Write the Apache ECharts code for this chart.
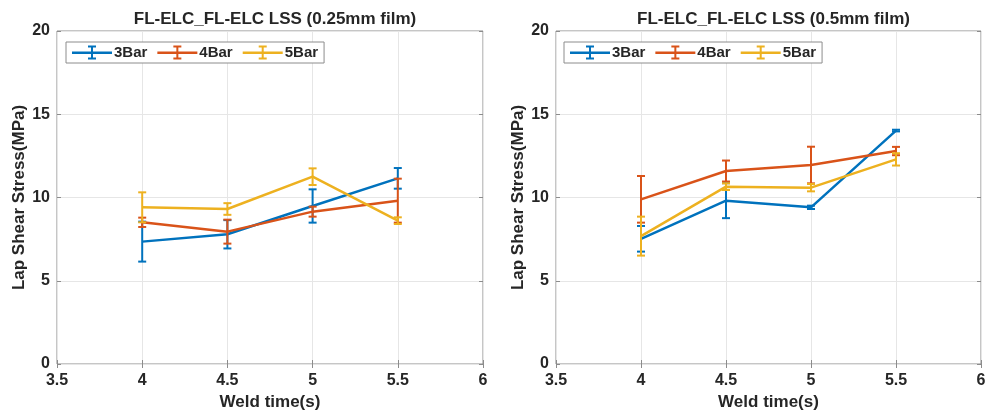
<!DOCTYPE html>
<html>
<head>
<meta charset="utf-8">
<script src="https://cdn.jsdelivr.net/npm/echarts@6/dist/echarts.min.js"></script>
<style>
  html, body { margin: 0; padding: 0; background: #fff; }
  #chart { width: 986px; height: 414px; }
</style>
</head>
<body>
<div id="chart"></div>
<script>
// Weld times (s)
const weldTimes = [4, 4.5, 5, 5.5];
const seriesNames = ['3Bar', '4Bar', '5Bar'];
const xTicks = [3.5, 4, 4.5, 5, 5.5, 6];
const yTicks = [0, 5, 10, 15, 20];

// 0.25 mm film: mean lap shear stress (MPa) and error half-width
const mean3BarThin = [7.35, 7.79, 9.49, 11.15];
const err3BarThin  = [1.2, 0.85, 1.0, 0.62];
const mean4BarThin = [8.51, 7.95, 9.15, 9.81];
const err4BarThin  = [0.28, 0.72, 0.3, 1.32];
const mean5BarThin = [9.41, 9.31, 11.25, 8.61];
const err5BarThin  = [0.9, 0.35, 0.5, 0.2];

// 0.5 mm film
const mean3BarThick = [7.52, 9.81, 9.41, 14.02];
const err3BarThick  = [0.77, 1.05, 0.1, 0.05];
const mean4BarThick = [9.89, 11.59, 11.95, 12.79];
const err4BarThick  = [1.4, 0.63, 1.1, 0.25];
const mean5BarThick = [7.68, 10.65, 10.59, 12.29];
const err5BarThick  = [1.17, 0.2, 0.22, 0.37];

const colors = ['#0072BD', '#D95319', '#EDB120'];
const textColor = '#262626';
const frameColor = '#8c8c8c';
const font = 'Liberation Sans, Arial, sans-serif';

const panels = [
  { title: 'FL-ELC_FL-ELC LSS (0.25mm film)', left: 57, width: 426,
    means: [mean3BarThin, mean4BarThin, mean5BarThin],
    errs: [err3BarThin, err4BarThin, err5BarThin] },
  { title: 'FL-ELC_FL-ELC LSS (0.5mm film)', left: 556, width: 425,
    means: [mean3BarThick, mean4BarThick, mean5BarThick],
    errs: [err3BarThick, err4BarThick, err5BarThick] }
];

const gridTop = 31, gridHeight = 333;

// legend glyph: line with an error bar across it
const legendIcon = 'path://M0,6h40v2.4h-40z M19,1h2v12h-2z M16,0h8v2h-8z M16,12h8v2h-8z';

function errorBarItem(params, api) {
  const x = api.value(0);
  const lo = api.coord([x, api.value(1)]);
  const hi = api.coord([x, api.value(2)]);
  const half = 4;
  const style = { stroke: api.visual('color'), lineWidth: 2 };
  return {
    type: 'group',
    children: [
      { type: 'line', shape: { x1: lo[0], y1: lo[1], x2: hi[0], y2: hi[1] }, style },
      { type: 'line', shape: { x1: lo[0] - half, y1: lo[1], x2: lo[0] + half, y2: lo[1] }, style },
      { type: 'line', shape: { x1: hi[0] - half, y1: hi[1], x2: hi[0] + half, y2: hi[1] }, style }
    ]
  };
}

const grids = [], xAxes = [], yAxes = [], series = [], titles = [], legends = [];
const tickStyle = { show: true, inside: true, length: 4, lineStyle: { color: frameColor } };

panels.forEach((p, gi) => {
  grids.push({ left: p.left, top: gridTop, width: p.width, height: gridHeight,
    containLabel: false, outerBoundsMode: 'none',
    show: true, borderColor: frameColor, borderWidth: 1, backgroundColor: '#fff' });
  titles.push({ text: p.title, left: p.left + p.width / 2, textAlign: 'center', top: 6,
    textStyle: { fontFamily: font, fontSize: 17, fontWeight: 'bold', color: textColor } });
  xAxes.push({
    type: 'value', gridIndex: gi, min: xTicks[0], max: xTicks[xTicks.length - 1], interval: 0.5,
    name: 'Weld time(s)', nameLocation: 'middle', nameGap: 29,
    nameTextStyle: { fontFamily: font, fontSize: 17, fontWeight: 'bold', color: textColor },
    axisLine: { show: false },
    axisTick: tickStyle,
    axisLabel: { fontFamily: font, fontSize: 16, fontWeight: 'bold', color: textColor, margin: 9 },
    splitLine: { show: true, lineStyle: { color: '#e6e6e6', width: 1 } }
  });
  // top edge ticks
  xAxes.push({
    type: 'value', gridIndex: gi, position: 'top', min: xTicks[0], max: xTicks[xTicks.length - 1], interval: 0.5,
    axisLine: { show: false }, axisTick: tickStyle, axisLabel: { show: false }, splitLine: { show: false }
  });
  yAxes.push({
    type: 'value', gridIndex: gi, min: yTicks[0], max: yTicks[yTicks.length - 1], interval: 5,
    name: 'Lap Shear Stress(MPa)', nameLocation: 'middle', nameGap: 26,
    nameTextStyle: { fontFamily: font, fontSize: 17, fontWeight: 'bold', color: textColor },
    axisLine: { show: false },
    axisTick: tickStyle,
    axisLabel: { fontFamily: font, fontSize: 16, fontWeight: 'bold', color: textColor, margin: 7 },
    splitLine: { show: true, lineStyle: { color: '#e6e6e6', width: 1 } }
  });
  // right edge ticks
  yAxes.push({
    type: 'value', gridIndex: gi, position: 'right', min: yTicks[0], max: yTicks[yTicks.length - 1], interval: 5,
    axisLine: { show: false }, axisTick: tickStyle, axisLabel: { show: false }, splitLine: { show: false }
  });
  legends.push({
    left: p.left + (gi === 0 ? 9 : 8), top: 42,
    orient: 'horizontal', itemWidth: 40, itemHeight: 14, itemGap: 10,
    padding: [3, 6, 3, 6],
    borderColor: frameColor, borderWidth: 1, backgroundColor: '#fff',
    selectedMode: false,
    textStyle: { fontFamily: font, fontSize: 15, fontWeight: 'bold', color: textColor, padding: [0, 0, 0, -3] },
    data: seriesNames.map(n => ({ name: n, icon: legendIcon }))
  });

  const xi = gi * 2, yi = gi * 2;
  seriesNames.forEach((name, si) => {
    const m = p.means[si], e = p.errs[si];
    series.push({
      name, type: 'line', xAxisIndex: xi, yAxisIndex: yi,
      data: weldTimes.map((t, i) => [t, m[i]]),
      showSymbol: false, symbol: 'none', color: colors[si],
      lineStyle: { width: 2.5, color: colors[si] }, z: 2 + si, animation: false
    });
    series.push({
      name, type: 'custom', xAxisIndex: xi, yAxisIndex: yi,
      data: weldTimes.map((t, i) => [t, m[i] - e[i], m[i] + e[i]]),
      renderItem: errorBarItem, color: colors[si], z: 2 + si, animation: false,
      encode: { x: 0, y: [1, 2] }
    });
  });
});

const chart = echarts.init(document.getElementById('chart'), null, { renderer: 'canvas' });
chart.setOption({
  animation: false,
  backgroundColor: '#fff',
  title: titles,
  legend: legends,
  grid: grids,
  xAxis: xAxes,
  yAxis: yAxes,
  series
});
</script>
</body>
</html>
